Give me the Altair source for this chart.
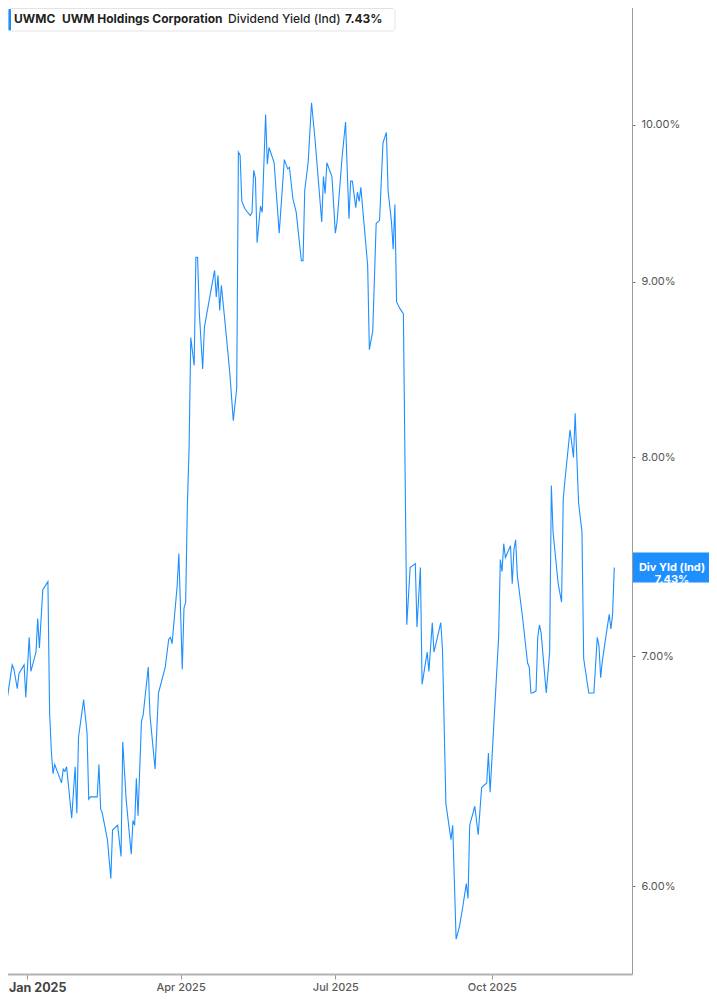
import altair as alt
import pandas as pd

# Days since 2025-01-01 and indicated dividend yield (%)
days = [
    -16, -15, -13, -12, -9, -8, -6, -5, -2, -1,
    1, 2, 5, 6, 7, 9, 12, 13, 14, 15,
    16, 20, 21, 22, 23, 26, 28, 29, 30, 33,
    35, 36, 37, 41, 42, 43, 44, 47, 49, 50,
    53, 55, 56, 58, 61, 62, 63, 64, 65, 67,
    68, 71, 72, 75, 77, 81, 83, 84, 85, 88,
    89, 91, 92, 93, 94, 95, 96, 98, 99, 100,
    101, 103, 104, 107, 110, 111, 112, 113, 114, 117,
    119, 121, 123, 124, 125, 126, 128, 131, 132, 133,
    134, 135, 137, 138, 140, 141, 142, 145, 148, 151,
    153, 154, 156, 158, 161, 162, 163, 165, 167, 169,
    173, 174, 175, 176, 179, 181, 182, 185, 187, 189,
    190, 191, 193, 194, 195, 196, 200, 201, 203, 205,
    207, 209, 211, 212, 214, 215, 216, 217, 219, 221,
    223, 225, 228, 229, 231, 232, 235, 236, 238, 239,
    243, 244, 246, 249, 250, 252, 254, 256, 258, 259,
    260, 263, 265, 267, 270, 271, 272, 277, 278, 279,
    280, 281, 284, 285, 286, 287, 288, 291, 294, 295,
    296, 297, 299, 300, 301, 302, 305, 307, 308, 309,
    312, 314, 315, 316, 319, 321, 322, 324, 326, 327,
    330, 333, 335, 336, 337, 338, 340, 342, 343, 344, 345,
]
yield_pct = [
    6.70, 6.71, 7.07, 6.80, 6.96, 6.94, 6.85, 6.92, 6.96, 6.81,
    7.09, 6.93, 7.02, 7.18, 7.04, 7.32, 7.36, 6.74, 6.57, 6.47,
    6.51, 6.43, 6.49, 6.48, 6.50, 6.28, 6.50, 6.30, 6.63, 6.80,
    6.65, 6.36, 6.37, 6.37, 6.51, 6.32, 6.30, 6.19, 6.03, 6.23,
    6.25, 6.12, 6.61, 6.36, 6.13, 6.27, 6.25, 6.45, 6.29, 6.70,
    6.73, 6.95, 6.73, 6.49, 6.83, 6.95, 7.08, 7.09, 7.06, 7.34,
    7.50, 6.94, 7.23, 7.26, 7.75, 8.05, 8.67, 8.51, 9.15, 9.15,
    8.82, 8.49, 8.73, 8.90, 9.07, 8.91, 9.04, 8.83, 8.98, 8.67,
    8.46, 8.20, 8.38, 9.82, 9.80, 9.50, 9.45, 9.41, 9.43, 9.70,
    9.65, 9.24, 9.47, 9.43, 10.07, 9.74, 9.85, 9.75, 9.30, 9.77,
    9.71, 9.72, 9.52, 9.43, 9.13, 9.13, 9.57, 9.75, 10.15, 9.91,
    9.37, 9.66, 9.55, 9.75, 9.66, 9.30, 9.37, 9.79, 10.02, 9.39,
    9.63, 9.63, 9.46, 9.56, 9.50, 9.59, 9.10, 8.60, 8.71, 9.36,
    9.38, 9.88, 9.95, 9.57, 9.37, 9.20, 9.48, 8.88, 8.84, 8.81,
    7.15, 7.43, 7.45, 7.14, 7.43, 6.87, 7.02, 6.93, 7.16, 7.02,
    7.16, 7.03, 6.34, 6.19, 6.25, 5.79, 5.84, 5.92, 6.01, 5.95,
    6.25, 6.33, 6.21, 6.41, 6.43, 6.56, 6.39, 7.09, 7.47, 7.41,
    7.55, 7.48, 7.54, 7.35, 7.52, 7.57, 7.39, 7.19, 6.97, 6.95,
    6.83, 6.83, 6.84, 7.09, 7.15, 7.11, 6.83, 7.02, 7.85, 7.61,
    7.35, 7.26, 7.78, 7.88, 8.15, 8.00, 8.24, 7.76, 7.61, 6.99,
    6.83, 6.83, 7.09, 7.05, 6.90, 6.98, 7.09, 7.20, 7.13, 7.20, 7.43,
]
assert len(days) == len(yield_pct)

y_ticks = [6, 7, 8, 9, 10]
last_value = 7.43
ticker = "UWMC"
company = "UWM Holdings Corporation"
metric = "Dividend Yield (Ind)"
badge_lines = ["Div Yld (Ind)", "7.43%"]

base_date = pd.Timestamp("2025-01-01")
dates = [(base_date + pd.Timedelta(days=d)).strftime("%Y-%m-%dT%H:%M:%S") for d in days]
df = pd.DataFrame({"date": dates, "value": yield_pct, "order": list(range(len(days)))})

BLUE = "#1e8fff"
FONT = "Inter"
W, H = 632, 974
PAD = {"left": -8, "top": -8, "right": 77, "bottom": 19}

x_scale = alt.Scale(
    domain=[alt.DateTime(year=2024, month=12, date=15, hours=20),
            alt.DateTime(year=2025, month=12, date=22, hours=10)]
)
y_scale = alt.Scale(type="log", domain=[5.656, 10.875], nice=False, zero=False)

is_jan = "month(datum.value) == 0"
x_axis = alt.Axis(
    values=[alt.DateTime(year=2025, month=m, date=1) for m in (1, 4, 7, 10)],
    labelExpr="timeFormat(datum.value, '%b %Y')",
    grid=False,
    domainColor="#b3b3b3",
    domainWidth=2,
    tickColor="#999999",
    tickSize=5,
    labelPadding=2,
    labelFont=FONT,
    labelFontSize={"condition": {"test": is_jan, "value": 12.5}, "value": 11},
    labelFontWeight={"condition": {"test": is_jan, "value": 700}, "value": 500},
    labelColor={"condition": {"test": is_jan, "value": "#444444"}, "value": "#5a5a5a"},
    labelAlign={"condition": {"test": is_jan, "value": "left"}, "value": "center"},
    labelOffset={"condition": {"test": is_jan, "value": -19}, "value": 0},
    labelBaseline="top",
    labelOverlap=False,
    labelBound=False,
    labelFlush=False,
    title=None,
)
y_axis = alt.Axis(
    orient="right",
    values=y_ticks,
    labelExpr="format(datum.value, '.2f') + '%'",
    grid=False,
    domainColor="#9a9a9a",
    domainWidth=1,
    tickColor="#777777",
    tickSize=3,
    labelPadding=6,
    labelFont=FONT,
    labelFontSize=11,
    labelColor="#555555",
    title=None,
)

line = alt.Chart(df).mark_line(color=BLUE, strokeWidth=1.1, clip=True).encode(
    x=alt.X("date:T", scale=x_scale, axis=x_axis),
    y=alt.Y("value:Q", scale=y_scale, axis=y_axis),
    order="order:Q",
)

one = pd.DataFrame({"k": [0]})

header_box = alt.Chart(one).mark_rect(
    fill="white", stroke="#e3e3e3", strokeWidth=1, cornerRadius=3
).encode(x=alt.value(8.5), x2=alt.value(395), y=alt.value(8.5), y2=alt.value(31))

header_bar = alt.Chart(one).mark_rect(fill=BLUE, cornerRadius=1).encode(
    x=alt.value(8.5), x2=alt.value(11), y=alt.value(9), y2=alt.value(30.5)
)

def htext(txt, xpos, weight):
    return alt.Chart(one).mark_text(
        align="left", baseline="middle", font=FONT, fontSize=12,
        fontWeight=weight, color="#1f1f1f"
    ).encode(x=alt.value(xpos), y=alt.value(19), text=alt.value(txt))

header_texts = (
    htext(ticker, 14, 700)
    + htext(company, 62, 700)
    + htext(metric, 228, 500)
    + htext(f"{last_value:.2f}%", 345, 700)
)

badge_rect = alt.Chart(one).mark_rect(fill=BLUE, height=30).encode(
    x=alt.value(W + 1), x2=alt.value(W + PAD["right"] + 10), y=alt.datum(last_value)
)
badge_text = alt.Chart(one).mark_text(
    align="center", baseline="middle", font=FONT, fontSize=11,
    fontWeight=700, color="white", lineHeight=12
).encode(x=alt.value(W + 40), y=alt.datum(last_value), text=alt.value(badge_lines))

chart = alt.layer(
    line, badge_rect, badge_text, header_box, header_bar, header_texts
).properties(
    width=W, height=H,
    autosize=alt.AutoSizeParams(type="none"),
    padding=PAD,
    background="white",
).configure_view(stroke=None)

chart.save("out.html", embed_options={"renderer": "svg", "actions": False})
